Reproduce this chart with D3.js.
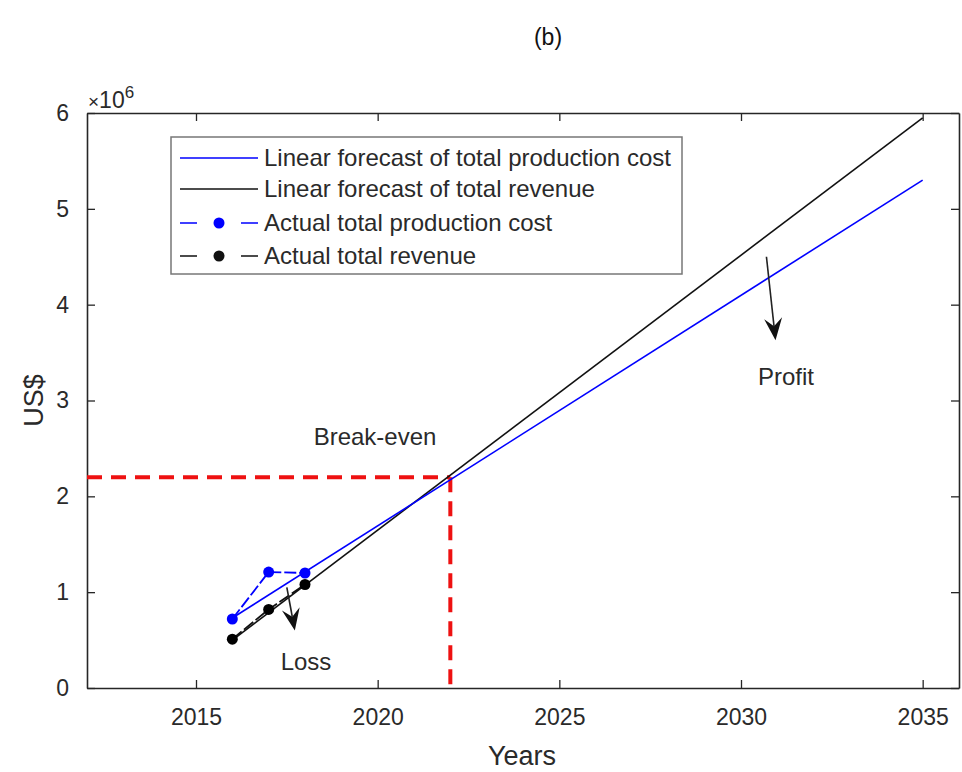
<!DOCTYPE html>
<html>
<head>
<meta charset="utf-8">
<script src="https://cdn.jsdelivr.net/npm/d3@7"></script>
<style>
  html, body { margin: 0; padding: 0; background: #fff; }
  svg { display: block; font-family: "Liberation Sans", Arial, sans-serif; }
</style>
</head>
<body>
<svg id="chart" width="962" height="772"></svg>
<script>
// ---- Data ----
const actualYears = [2016, 2017, 2018];
const actualCost = [0.72e6, 1.21e6, 1.20e6];
const actualRevenue = [0.51e6, 0.82e6, 1.08e6];
const forecastYears = [2016, 2035];
const forecastCost = [0.73e6, 5.30e6];
const forecastRevenue = [0.50e6, 5.95e6];
const breakEvenYear = 2022;
const breakEvenValue = 2.2e6;
const xTicks = [2015, 2020, 2025, 2030, 2035];
const yTicks = [0, 1e6, 2e6, 3e6, 4e6, 5e6, 6e6];
const legendLabels = [
  "Linear forecast of total production cost",
  "Linear forecast of total revenue",
  "Actual total production cost",
  "Actual total revenue"
];

// ---- Layout ----
const svg = d3.select("#chart");
const pLeft = 87, pRight = 959, pTop = 113, pBottom = 688;
const x = d3.scaleLinear().domain([2012, 2036]).range([pLeft, pRight]);
const y = d3.scaleLinear().domain([0, 6e6]).range([pBottom, pTop]);
const axisColor = "#262626";
const textColor = "#2a2a2a";
const blue = "#0000ff";
const tickLen = 8;

// Axes (inward ticks, box)
const fmtY = v => String(v / 1e6);
const gx = svg.append("g").attr("transform", `translate(0,${pBottom})`)
  .call(d3.axisBottom(x).tickValues(xTicks).tickFormat(d3.format("d")).tickSizeInner(-tickLen).tickSizeOuter(0).tickPadding(21));
const gxTop = svg.append("g").attr("transform", `translate(0,${pTop})`)
  .call(d3.axisTop(x).tickValues(xTicks).tickFormat("").tickSizeInner(-tickLen).tickSizeOuter(0));
const gy = svg.append("g").attr("transform", `translate(${pLeft},0)`)
  .call(d3.axisLeft(y).tickValues(yTicks).tickFormat(fmtY).tickSizeInner(-tickLen).tickSizeOuter(0).tickPadding(18));
const gyR = svg.append("g").attr("transform", `translate(${pRight},0)`)
  .call(d3.axisRight(y).tickValues(yTicks).tickFormat("").tickSizeInner(-tickLen).tickSizeOuter(0));
[gx, gxTop, gy, gyR].forEach(g => {
  g.selectAll(".domain").attr("stroke", axisColor).attr("stroke-width", 1.6);
  g.selectAll(".tick line").attr("stroke", axisColor).attr("stroke-width", 1.3);
  g.selectAll("text").attr("fill", textColor).attr("font-size", 23)
    .attr("font-family", "Liberation Sans, Arial, sans-serif");
});
gx.selectAll("text").attr("dy", "0.71em");

// Exponent label
const expo = svg.append("text").attr("x", pLeft + 1).attr("y", pTop - 5)
  .attr("fill", textColor).attr("font-size", 23);
expo.append("tspan").attr("font-size", 19).text("×");
expo.append("tspan").text("10");
expo.append("tspan").attr("dy", -10).attr("font-size", 17).text("6");

// Axis labels & title
svg.append("text").attr("x", (pLeft + pRight) / 2 - 1).attr("y", 765)
  .attr("text-anchor", "middle").attr("fill", textColor).attr("font-size", 27).text("Years");
svg.append("text").attr("transform", `translate(43,${(pTop + pBottom) / 2}) rotate(-90)`)
  .attr("text-anchor", "middle").attr("fill", textColor).attr("font-size", 27).text("US$");
svg.append("text").attr("x", 548).attr("y", 45)
  .attr("text-anchor", "middle").attr("fill", "#111").attr("font-size", 23).text("(b)");

// Break-even red dashed guides
const red = "#ee1111";
svg.append("line").attr("x1", x(2012)).attr("x2", x(breakEvenYear))
  .attr("y1", y(breakEvenValue)).attr("y2", y(breakEvenValue))
  .attr("stroke", red).attr("stroke-width", 4).attr("stroke-dasharray", "15,9");
svg.append("line").attr("x1", x(breakEvenYear)).attr("x2", x(breakEvenYear))
  .attr("y1", y(breakEvenValue)).attr("y2", y(0))
  .attr("stroke", red).attr("stroke-width", 4).attr("stroke-dasharray", "15,9");

// Lines
const line = d3.line().x(d => x(d[0])).y(d => y(d[1]));
svg.append("path").datum(forecastYears.map((yr, i) => [yr, forecastRevenue[i]]))
  .attr("d", line).attr("fill", "none").attr("stroke", "#111").attr("stroke-width", 1.6);
svg.append("path").datum(forecastYears.map((yr, i) => [yr, forecastCost[i]]))
  .attr("d", line).attr("fill", "none").attr("stroke", blue).attr("stroke-width", 1.6);

svg.append("path").datum(actualYears.map((yr, i) => [yr, actualCost[i]]))
  .attr("d", line).attr("fill", "none").attr("stroke", blue).attr("stroke-width", 1.8)
  .attr("stroke-dasharray", "12,3");
svg.append("path").datum(actualYears.map((yr, i) => [yr, actualRevenue[i]]))
  .attr("d", line).attr("fill", "none").attr("stroke", "#111").attr("stroke-width", 1.8)
  .attr("stroke-dasharray", "12,3");

svg.selectAll(".mc").data(actualYears.map((yr, i) => [yr, actualCost[i]])).enter()
  .append("circle").attr("cx", d => x(d[0])).attr("cy", d => y(d[1])).attr("r", 5.5).attr("fill", blue);
svg.selectAll(".mr").data(actualYears.map((yr, i) => [yr, actualRevenue[i]])).enter()
  .append("circle").attr("cx", d => x(d[0])).attr("cy", d => y(d[1])).attr("r", 5.5).attr("fill", "#000");

// Arrows (annotation positions in data coordinates)
function arrow(x1, y1, x2, y2) {
  const X1 = x(x1), Y1 = y(y1), X2 = x(x2), Y2 = y(y2);
  const ang = Math.atan2(Y2 - Y1, X2 - X1);
  const L = 22, W = 9, back = 8;
  const bx = X2 - L * Math.cos(ang), by = Y2 - L * Math.sin(ang);
  const nx = -Math.sin(ang), ny = Math.cos(ang);
  const mx = X2 - (L - back) * Math.cos(ang), my = Y2 - (L - back) * Math.sin(ang);
  svg.append("line").attr("x1", X1).attr("y1", Y1).attr("x2", mx).attr("y2", my)
    .attr("stroke", "#222").attr("stroke-width", 1.6);
  svg.append("path").attr("d",
    `M${X2},${Y2} L${bx + W * nx},${by + W * ny} L${mx},${my} L${bx - W * nx},${by - W * ny} Z`)
    .attr("fill", "#111");
}
arrow(2017.5, 1.05e6, 2017.72, 0.6e6);
arrow(2030.7, 4.5e6, 2030.95, 3.63e6);

svg.append("text").attr("x", 306).attr("y", 670).attr("text-anchor", "middle")
  .attr("fill", textColor).attr("font-size", 24).text("Loss");
svg.append("text").attr("x", 786).attr("y", 385).attr("text-anchor", "middle")
  .attr("fill", textColor).attr("font-size", 24).text("Profit");
svg.append("text").attr("x", 375).attr("y", 445).attr("text-anchor", "middle")
  .attr("fill", textColor).attr("font-size", 24).text("Break-even");

// Legend
const lg = svg.append("g");
lg.append("rect").attr("x", 171).attr("y", 137).attr("width", 511).attr("height", 137)
  .attr("fill", "#fff").attr("stroke", "#777").attr("stroke-width", 1.5);
const rowY = [158, 189, 223, 256];
const legendStyles = [
  { c: blue, dash: null },
  { c: "#111", dash: null },
  { c: blue, dash: "17,44,17" },
  { c: "#111", dash: "17,44,17" }
];
legendLabels.forEach((lab, i) => {
  const s = legendStyles[i];
  const ln = lg.append("line").attr("x1", 180).attr("x2", 258).attr("y1", rowY[i]).attr("y2", rowY[i])
    .attr("stroke", s.c).attr("stroke-width", 1.6);
  if (s.dash) {
    ln.attr("stroke-dasharray", s.dash);
    lg.append("circle").attr("cx", 219).attr("cy", rowY[i]).attr("r", 5.5).attr("fill", s.c);
  }
  lg.append("text").attr("x", 264).attr("y", rowY[i]).attr("dy", "0.35em")
    .attr("fill", textColor).attr("font-size", 24).text(lab);
});
</script>
</body>
</html>
